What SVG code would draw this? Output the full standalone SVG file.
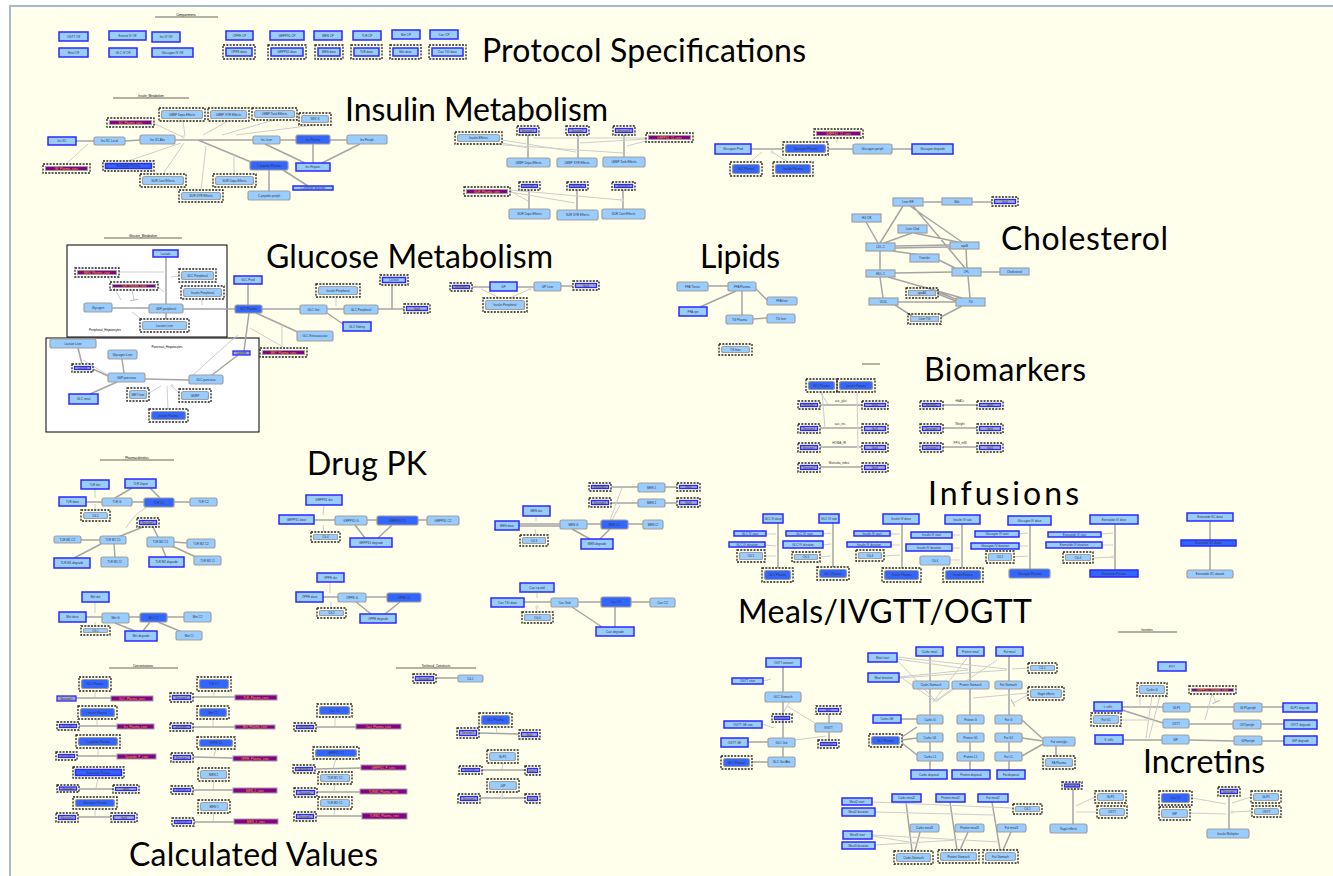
<svg xmlns="http://www.w3.org/2000/svg" width="1333" height="876" viewBox="0 0 1333 876">
<style>
.a{fill:#99ccff;stroke:#a0a0a0;stroke-width:1.2}
.g{fill:#99ccff;stroke:#a0a0a0;stroke-width:1.2}
.b{fill:#99ccff;stroke:#2a2aff;stroke-width:1.5}
.c{fill:#3366ff;stroke:#9a9a9a;stroke-width:1.2}
.cb{fill:#3366ff;stroke:#2a2aff;stroke-width:1.5}
.p{fill:#880088;stroke:#a0a0a0;stroke-width:1}
.e{fill:#a9a9c9;stroke:#2a2aff;stroke-width:1.3}
.d{fill:none;stroke:#222;stroke-width:1.3;stroke-dasharray:2 1.3}
.box{fill:#fff;stroke:#000;stroke-width:1}
text{font-family:"Liberation Sans",Arial,sans-serif}
.t{font-size:3px;fill:#333;text-anchor:middle}
.tp{font-size:3px;fill:#ffaa00;text-anchor:middle}
.h{font-size:3px;fill:#000;text-anchor:middle}
.T{font-family:Lato,"Open Sans","DejaVu Sans",sans-serif;font-size:32px;fill:#000}
.l{stroke:#a5a5a5;stroke-width:1.5;fill:none}
.lt{stroke:#cdcdcd;stroke-width:1;fill:none;marker-end:url(#o)}
.lb{stroke:#cdcdcd;stroke-width:1;fill:none;marker-end:url(#tb)}
.hl{stroke:#000;stroke-width:0.6}
</style>
<defs>
<marker id="o" markerWidth="4" markerHeight="4" refX="2" refY="2" markerUnits="userSpaceOnUse"><circle cx="2" cy="2" r="1.2" fill="#fff" stroke="#bbb" stroke-width="0.6"/></marker>
<marker id="tb" markerWidth="2" markerHeight="8" refX="1" refY="4" orient="auto" markerUnits="userSpaceOnUse"><line x1="1" y1="0" x2="1" y2="8" stroke="#bbb" stroke-width="1"/></marker>
</defs>
<rect x="0" y="0" width="1333" height="876" fill="#fff"/>
<rect x="10" y="6" width="1330" height="880" fill="#ffffec" stroke="#a9b9cf" stroke-width="2"/>

<g id="titles">
<text class="T" x="482" y="62" textLength="324">Protocol Specifications</text>
<text class="T" x="345" y="121" textLength="263">Insulin Metabolism</text>
<text class="T" x="266" y="268" textLength="287">Glucose Metabolism</text>
<text class="T" x="700" y="268" textLength="80">Lipids</text>
<text class="T" x="1001" y="250" textLength="167">Cholesterol</text>
<text class="T" x="924" y="381" textLength="162">Biomarkers</text>
<text class="T" x="307" y="475" textLength="120">Drug PK</text>
<text class="T" x="928" y="505" textLength="151">Infusions</text>
<text class="T" x="738" y="623" textLength="294">Meals/IVGTT/OGTT</text>
<text class="T" x="1143" y="773" textLength="122">Incretins</text>
<text class="T" x="129" y="866" textLength="249">Calculated Values</text>
</g>

<g id="headers">
<line class="hl" x1="155" y1="17" x2="218" y2="17"/><text class="h" x="186" y="16">Compartments</text>
<line class="hl" x1="113" y1="98" x2="189" y2="98"/><text class="h" x="151" y="97">Insulin_Metabolism</text>
<line class="hl" x1="104" y1="238" x2="182" y2="238"/><text class="h" x="143" y="237">Glucose_Metabolism</text>
<line class="hl" x1="100" y1="460" x2="174" y2="460"/><text class="h" x="137" y="459">Pharmacokinetics</text>
<line class="hl" x1="109" y1="668" x2="178" y2="668"/><text class="h" x="143" y="667">Concentrations</text>
<line class="hl" x1="396" y1="668" x2="476" y2="668"/><text class="h" x="436" y="667">Technical_Constructs</text>
<line class="hl" x1="1118" y1="632" x2="1177" y2="632"/><text class="h" x="1147" y="631">Incretins</text>
<line class="hl" x1="862" y1="364" x2="880" y2="364"/>
</g>

<g id="compartment-boxes">
<rect class="box" x="67" y="245" width="160" height="92"/>
<text class="h" x="105" y="331">Peripheral_Hepatocytes</text>
<rect class="box" x="46" y="338" width="213" height="94"/>
<text class="h" x="167" y="348">Pancreas_Hepatocytes</text>
</g>

<g id="connectors">
<path class="l" d="M76 141L94 141M125 141L140 140M175 140L253 140M280 140L296 140M330 140L347 140M198 140L251 162M265 144L305 163M313 144L313 163M360 144L322 163M269 170L269 191M283 170L308 186"/>
<path class="l" d="M528 135L528 158M578 135L578 158M624 135L624 157M529 190L529 209M577 190L577 210M623 190L623 209"/>
<path class="l" d="M751 149L783 149M828 149L853 149M892 149L912 149"/>
<path class="l" d="M166 257L166 304M112 308L149 308M166 313L166 319M183 309L235 309M248 284L248 305M262 309L300 309M327 309L344 309M378 309L404 309M392 285L392 309M327 313L343 324M256 313L300 333M249 313L244 351M238 355L212 375M78 348L82 364M122 359L124 373M93 369L108 376M145 379L189 380M117 382L90 394"/>
<path class="l" d="M472 287L490 287M517 287L534 287M561 286L573 286"/>
<path class="l" d="M708 286L728 286M742 291L742 315M736 291L700 307M756 289L767 300M753 319L767 318"/>
<path class="l" d="M923 202L942 202M972 202L992 202M903 206L880 243M910 206L962 242M913 206L965 268M866 222L878 243M912 233L884 243M914 233L958 242M895 246L950 245M895 248L950 247M893 251L920 255M939 260L955 268M880 251L880 270M895 273L952 272M880 277L883 298M888 277L962 298M938 292L958 300M938 294L958 302M898 302L956 302M895 305L912 316M941 317L962 306M966 249L967 268M981 272L1000 272M968 276L970 298"/>
<path class="l" d="M820 405L862 405M820 428L862 428M820 447L862 447M820 467L862 467M943 405L977 405M943 428L977 428M943 447L977 447"/>
<path class="l" d="M86 502L102 502M132 502L144 502M174 502L190 502M132 488L115 498M150 488L160 498M81 540L100 540M101 544L74 558M114 544L115 557M174 542L187 543M162 547L166 557M172 546L196 557M143 527L118 537M153 527L158 537"/>
<path class="l" d="M86 617L102 617M129 617L140 617M167 617L184 617M115 623L135 631M150 622L143 631M158 622L182 632"/>
<path class="l" d="M314 520L335 520M367 520L377 520M418 520L427 520M355 525L365 538M392 525L378 538"/>
<path class="l" d="M323 597L338 597M366 597L387 597M356 602L371 614M400 602L385 614"/>
<path class="l" d="M519 524L560 524M519 526L560 526M587 524L601 524M628 524L643 524M572 529L590 539M610 529L600 539M611 487L638 487M665 487L677 487M611 503L638 503M665 503L677 503"/>
<path class="l" d="M524 602L551 602M578 602L601 602M631 602L650 602M572 607L602 627M615 607L615 627"/>
<path class="l" d="M778 523L778 568M833 523L833 567M902 524L902 568M962 524L962 568M1030 525L1030 569M1115 524L1115 570M1210 521L1210 570"/>
<path class="l" d="M76 698L111 698M79 726L117 726M77 756L117 756M79 789L113 789M78 817L111 817M193 697L235 697M193 727L235 727M193 757L233 758M193 790L233 790M194 822L234 822M316 727L356 727M315 769L361 768M317 792L360 792M316 816L362 816M436 678L458 678M479 733L519 734M482 770L525 770M480 798L525 798"/>
<path class="l" d="M783 667L783 692M783 702L783 738M783 747L783 757M748 742L768 742M752 762L768 762M829 714L829 723M829 732L829 740"/>
<path class="l" d="M930 656L930 681M930 689L930 715M930 724L930 733M930 742L930 752M930 761L930 770M970 656L970 681M970 689L970 715M970 724L970 733M970 742L970 752M970 761L970 770M1009 656L1009 681M1009 689L1009 715M1009 724L1009 733M1009 742L1009 752M1009 761L1009 770M901 719L917 719M902 737L917 727M902 740L917 738M902 743L917 755M1022 720L1043 739M1022 738L1043 741M1022 756L1043 744M1056 746L1056 757"/>
<path class="l" d="M906 802L912 851M920 832L915 851M950 802L957 850M968 832L960 850M992 802L1000 850M1011 832L1003 850"/>
<path class="l" d="M1122 707L1163 707M1190 707L1234 707M1262 707L1283 707M1189 724L1233 724M1261 724L1284 724M1123 740L1162 740M1189 740L1234 741M1262 741L1284 741M1122 710L1163 723M1073 789L1073 824M1229 796L1229 829"/>
<path class="lt" d="M183 121L185 136M228 121L203 135M274 120L222 135M315 125L236 135M163 174L184 143M234 174L234 155M201 190L206 146M128 161L181 143M66 164L88 144M153 123L183 137"/>
<path class="lt" d="M502 143L528 148M502 140L576 152M490 144L623 153M646 138L533 138M646 139L580 143M646 141L627 146M510 191L528 201M510 192L575 203M510 190L622 200"/>
<path class="lt" d="M838 138L836 143M750 162L762 152M788 162L772 152"/>
<path class="lt" d="M336 298L336 306M202 299L202 305M179 276L171 277M143 320L132 312M283 347L250 328M282 347L282 325M190 378Q220 350 238 335M108 375L83 360M168 409L167 386M149 393L161 386M179 393L172 386"/>
<path class="lb" d="M119 272L164 272M158 287L164 292M108 277L121 300M132 290L134 300"/>
<path class="lt" d="M500 298L481 289M510 298L530 289"/>
<path class="lt" d="M820 392L828 404M822 392L825 428M857 392L858 447"/>
<path class="lt" d="M95 489L95 498M95 510L95 504M147 507Q133 515 126 528M95 602L95 613M95 626L95 622M324 505L323 515M324 532L323 525M330 582L330 593M331 608L331 602M536 516L536 521M536 535L535 529M610 520L622 488M612 520L620 505M537 592L537 598M537 612L537 607"/>
<path class="lt" d="M766 534L776 534M765 545L776 546M765 556L776 556M823 534L831 533M823 545L831 544M820 557L831 556M890 534L900 534M891 545L900 545M884 556L900 555M952 535L960 535M952 548L960 548M950 560L960 560M1019 534L1028 533M1019 546L1028 546M1014 557L1028 556M1101 534L1113 533M1102 545L1113 545M1093 558L1113 557"/>
<path class="lt" d="M95 691L95 697M97 719L97 725M98 748L98 755M98 778L96 788M95 809L95 816M214 691L214 696M213 719L213 726M216 749L214 756M214 781L213 789M214 813L213 821M335 717L335 726M336 759L333 768M335 784L334 791M335 809L334 815M496 727L497 733M503 763L502 769M503 792L502 797"/>
<path class="lt" d="M763 681L771 679M762 724L774 728M787 706L815 723M795 740L826 736M790 701L782 715"/>
<path class="lt" d="M897 657L1007 669M897 659L968 669M899 677L968 670M899 678L1007 670M1028 668L1012 669M967 658L933 702M997 660L935 702M899 676L935 701M897 660L935 700M953 688L937 700"/>
<path class="lb" d="M1028 693L973 698M1028 695L1013 703"/>
<path class="lt" d="M872 802L1012 808M875 812L993 815M872 835L1000 842M875 845L957 840M872 836L915 843"/>
<path class="lt" d="M1140 696L1140 705M1152 696L1146 738M1160 696L1149 738M1121 720L1150 720M1095 797L1076 806M1097 812L1076 812M1192 798L1226 804M1190 813L1226 814M1251 797L1232 803M1252 811L1232 812"/>
<path class="lb" d="M1212 694L1205 720M1212 694L1216 702"/>
</g>

<g id="p1"><rect class="b" x="59" y="32" width="29" height="9"/><text class="t" x="73.5" y="37.5">OGTT Off</text></g>
<g id="p2"><rect class="b" x="109" y="31" width="37" height="9"/><text class="t" x="127.5" y="36.5">Exenat IV Off</text></g>
<g id="p3"><rect class="b" x="152" y="32" width="28" height="10"/><text class="t" x="166" y="38">Ins IV Off</text></g>
<g id="p4"><rect class="b" x="226" y="31" width="27" height="9"/><text class="t" x="239.5" y="36.5">OPPE CP</text></g>
<g id="p5"><rect class="b" x="270" y="31" width="34" height="9"/><text class="t" x="287" y="36.5">GRPPS1 CP</text></g>
<g id="p6"><rect class="b" x="314" y="31" width="28" height="9"/><text class="t" x="328" y="36.5">MEN CP</text></g>
<g id="p7"><rect class="b" x="353" y="31" width="28" height="9"/><text class="t" x="367" y="36.5">TLR CP</text></g>
<g id="p8"><rect class="b" x="392" y="30" width="28" height="9"/><text class="t" x="406" y="35.5">Met CP</text></g>
<g id="p9"><rect class="b" x="430" y="30" width="28" height="9"/><text class="t" x="444" y="35.5">Caci CP</text></g>
<g id="p10"><rect class="b" x="59" y="48" width="29" height="9"/><text class="t" x="73.5" y="53.5">Meal Off</text></g>
<g id="p11"><rect class="b" x="109" y="48" width="28" height="9"/><text class="t" x="123" y="53.5">GLC IV Off</text></g>
<g id="p12"><rect class="b" x="152" y="48" width="41" height="9"/><text class="t" x="172.5" y="53.5">Glucagon IV Off</text></g>
<g id="p13"><rect class="d" x="223" y="45" width="32" height="14"/><rect class="b" x="226" y="48" width="26" height="8"/><text class="t" x="239" y="53">OPPE dose</text></g>
<g id="p14"><rect class="d" x="268" y="45" width="38" height="14"/><rect class="b" x="271" y="48" width="32" height="8"/><text class="t" x="287" y="53">GRPPS1 dose</text></g>
<g id="p15"><rect class="d" x="315" y="45" width="28" height="14"/><rect class="b" x="318" y="48" width="22" height="8"/><text class="t" x="329" y="53">MEN dose</text></g>
<g id="p16"><rect class="d" x="351" y="45" width="31" height="14"/><rect class="b" x="354" y="48" width="25" height="8"/><text class="t" x="366.5" y="53">TLR dose</text></g>
<g id="p17"><rect class="d" x="390" y="45" width="31" height="14"/><rect class="b" x="393" y="48" width="25" height="8"/><text class="t" x="405.5" y="53">Met dose</text></g>
<g id="p18"><rect class="d" x="429" y="45" width="37" height="14"/><rect class="b" x="432" y="48" width="31" height="8"/><text class="t" x="447.5" y="53">Caci TID dose</text></g>

<g id="i1"><rect class="d" x="107" y="118" width="47" height="9"/><rect class="p" x="109.5" y="120.5" width="42" height="4"/><text class="tp" x="130.5" y="123.5">SC_Plasma_conc</text></g>
<g id="i2"><rect class="d" x="159" y="108" width="46" height="13"/><rect class="a" x="161.5" y="110.5" width="41" height="8" rx="2"/><text class="t" x="182" y="115.5">LMBP Dopa Effects</text></g>
<g id="i3"><rect class="d" x="208" y="108" width="41" height="13"/><rect class="a" x="210.5" y="110.5" width="36" height="8" rx="2"/><text class="t" x="228.5" y="115.5">LMBP SYR Effects</text></g>
<g id="i4"><rect class="d" x="252" y="108" width="45" height="12"/><rect class="a" x="254.5" y="110.5" width="40" height="7" rx="2"/><text class="t" x="274.5" y="115">LMBP Tank Effects</text></g>
<g id="i5"><rect class="d" x="299" y="113" width="32" height="12"/><rect class="a" x="301.5" y="115.5" width="27" height="7" rx="2"/><text class="t" x="315" y="120">SKK X</text></g>
<g id="i6"><rect class="b" x="48" y="137" width="28" height="8"/><text class="t" x="62" y="142">Ins SC</text></g>
<g id="i7"><rect class="a" x="94" y="137" width="31" height="8" rx="2"/><text class="t" x="109.5" y="142">Ins SC Local</text></g>
<g id="i8"><rect class="a" x="140" y="135" width="35" height="9" rx="2"/><text class="t" x="157.5" y="140.5">Ins SC Abs</text></g>
<g id="i9"><rect class="a" x="253" y="136" width="27" height="8" rx="2"/><text class="t" x="266.5" y="141">Ins Liver</text></g>
<g id="i10"><rect class="c" x="296" y="135" width="34" height="9" rx="2"/><text class="t" x="313" y="140.5">Ins Plasma</text></g>
<g id="i11"><rect class="a" x="347" y="135" width="40" height="9" rx="2"/><text class="t" x="367" y="140.5">Ins Periph</text></g>
<g id="i12"><rect class="d" x="43" y="164" width="47" height="9"/><rect class="p" x="45.5" y="166.5" width="42" height="4"/><text class="tp" x="66.5" y="169.5">IM_Plasma_conc</text></g>
<g id="i13"><rect class="d" x="103" y="161" width="51" height="10"/><rect class="cb" x="105.5" y="163.5" width="46" height="5"/><text class="t" x="128.5" y="167">Exenatide Plasma</text></g>
<g id="i14"><rect class="c" x="250" y="161" width="38" height="9" rx="2"/><text class="t" x="269" y="166.5">C-peptide Plasma</text></g>
<g id="i15"><rect class="b" x="296" y="163" width="34" height="8"/><text class="t" x="313" y="168">Ins Hepatic</text></g>
<g id="i16"><rect class="d" x="140" y="174" width="46" height="13"/><rect class="a" x="142.5" y="176.5" width="41" height="8" rx="2"/><text class="t" x="163" y="181.5">SUR Cont Effects</text></g>
<g id="i17"><rect class="d" x="213" y="174" width="43" height="13"/><rect class="a" x="215.5" y="176.5" width="38" height="8" rx="2"/><text class="t" x="234.5" y="181.5">SUR Dopa Effects</text></g>
<g id="i18"><rect class="d" x="179" y="190" width="44" height="12"/><rect class="a" x="181.5" y="192.5" width="39" height="7" rx="2"/><text class="t" x="201" y="197">SUR SYR Effects</text></g>
<g id="i19"><rect class="a" x="248" y="191" width="42" height="9" rx="2"/><text class="t" x="269" y="196.5">C-peptide periph</text></g>
<g id="i20"><rect class="b" x="293" y="186" width="40" height="4"/><text class="t" x="313" y="189">C-peptide degrade</text></g>

<g id="j1"><rect class="d" x="455" y="132" width="47" height="12"/><rect class="a" x="457.5" y="134.5" width="42" height="7" rx="2"/><text class="t" x="478.5" y="139">Insulin Effects</text></g>
<g id="j2"><rect class="d" x="517" y="126" width="22" height="9"/><rect class="e" x="519.5" y="128.5" width="17" height="4"/><text class="t" x="528" y="131.5">Session1</text></g>
<g id="j3"><rect class="d" x="566" y="126" width="23" height="9"/><rect class="e" x="568.5" y="128.5" width="18" height="4"/><text class="t" x="577.5" y="131.5">Session2</text></g>
<g id="j4"><rect class="d" x="613" y="126" width="22" height="9"/><rect class="e" x="615.5" y="128.5" width="17" height="4"/><text class="t" x="624" y="131.5">Session3</text></g>
<g id="j5"><rect class="d" x="646" y="133" width="47" height="9"/><rect class="p" x="648.5" y="135.5" width="42" height="4"/><text class="tp" x="669.5" y="138.5">GRPPS1_CI_conc</text></g>
<g id="j6"><rect class="a" x="507" y="158" width="43" height="9" rx="2"/><text class="t" x="528.5" y="163.5">LMBP Dopa Effects</text></g>
<g id="j7"><rect class="a" x="557" y="158" width="40" height="9" rx="2"/><text class="t" x="577" y="163.5">LMBP SYR Effects</text></g>
<g id="j8"><rect class="a" x="603" y="157" width="42" height="10" rx="2"/><text class="t" x="624" y="163">LMBP Tank Effects</text></g>
<g id="j9"><rect class="d" x="464" y="187" width="46" height="9"/><rect class="p" x="466.5" y="189.5" width="41" height="4"/><text class="tp" x="487" y="192.5">SUR_Plasma_conc</text></g>
<g id="j10"><rect class="d" x="519" y="182" width="21" height="8"/><rect class="e" x="521.5" y="184.5" width="16" height="3"/><text class="t" x="529.5" y="187">Session1</text></g>
<g id="j11"><rect class="d" x="567" y="182" width="21" height="8"/><rect class="e" x="569.5" y="184.5" width="16" height="3"/><text class="t" x="577.5" y="187">Session2</text></g>
<g id="j12"><rect class="d" x="612" y="182" width="23" height="8"/><rect class="e" x="614.5" y="184.5" width="18" height="3"/><text class="t" x="623.5" y="187">Session3</text></g>
<g id="j13"><rect class="a" x="509" y="209" width="41" height="10" rx="2"/><text class="t" x="529.5" y="215">SUR Dopa Effects</text></g>
<g id="j14"><rect class="a" x="557" y="210" width="41" height="10" rx="2"/><text class="t" x="577.5" y="216">SUR SYR Effects</text></g>
<g id="j15"><rect class="a" x="602" y="209" width="43" height="10" rx="2"/><text class="t" x="623.5" y="215">SUR Cont Effects</text></g>

<g id="g1"><rect class="d" x="814" y="129" width="49" height="9"/><rect class="p" x="816.5" y="131.5" width="44" height="4"/><text class="tp" x="838.5" y="134.5">GRPPS1_CI_conc</text></g>
<g id="g2"><rect class="b" x="715" y="144" width="36" height="10"/><text class="t" x="733" y="150">Glucagon Prod</text></g>
<g id="g3"><rect class="d" x="783" y="142" width="45" height="13"/><rect class="c" x="785.5" y="144.5" width="40" height="8" rx="2"/><text class="t" x="805.5" y="149.5">Glucagon Plasma</text></g>
<g id="g4"><rect class="a" x="853" y="144" width="39" height="10" rx="2"/><text class="t" x="872.5" y="150">Glucagon periph</text></g>
<g id="g5"><rect class="b" x="912" y="144" width="41" height="10"/><text class="t" x="932.5" y="150">Glucagon degrade</text></g>
<g id="g6"><rect class="d" x="730" y="162" width="32" height="14"/><rect class="c" x="732.5" y="164.5" width="27" height="9" rx="2"/><text class="t" x="746" y="170">GLC Plasma</text></g>
<g id="g7"><rect class="d" x="773" y="162" width="40" height="14"/><rect class="c" x="775.5" y="164.5" width="35" height="9" rx="2"/><text class="t" x="793" y="170">Insulin Plasma</text></g>

<g id="gm1"><rect class="b" x="153" y="250" width="25" height="7"/><text class="t" x="165.5" y="254.5">Lactate</text></g>
<g id="gm2"><rect class="d" x="75" y="268" width="44" height="9"/><rect class="p" x="77.5" y="270.5" width="39" height="4"/><text class="tp" x="97" y="273.5">MEN_Plasma_conc</text></g>
<g id="gm3"><rect class="d" x="179" y="269" width="37" height="13"/><rect class="a" x="181.5" y="271.5" width="32" height="8" rx="2"/><text class="t" x="197.5" y="276.5">GLC Peripheral</text></g>
<g id="gm4"><rect class="d" x="110" y="282" width="48" height="8"/><rect class="p" x="112.5" y="284.5" width="43" height="3"/><text class="tp" x="134" y="287">TLR_Plasma_conc</text></g>
<g id="gm5"><rect class="d" x="181" y="286" width="43" height="13"/><rect class="a" x="183.5" y="288.5" width="38" height="8" rx="2"/><text class="t" x="202.5" y="293.5">Insulin Peripheral</text></g>
<g id="gm6"><rect class="a" x="84" y="303" width="28" height="9" rx="2"/><text class="t" x="98" y="308.5">Glycogen</text></g>
<g id="gm7"><rect class="a" x="149" y="304" width="34" height="9" rx="2"/><text class="t" x="166" y="309.5">G6P peripheral</text></g>
<g id="gm8"><rect class="d" x="140" y="319" width="49" height="13"/><rect class="a" x="142.5" y="321.5" width="44" height="8" rx="2"/><text class="t" x="164.5" y="326.5">Lactate Liver</text></g>
<g id="gm9"><rect class="b" x="234" y="276" width="28" height="8"/><text class="t" x="248" y="281">GLC Prod</text></g>
<g id="gm10"><rect class="c" x="235" y="305" width="27" height="8" rx="2"/><text class="t" x="248.5" y="310">GLC Plasma</text></g>
<g id="gm11"><rect class="d" x="316" y="284" width="44" height="13"/><rect class="a" x="318.5" y="286.5" width="39" height="8" rx="2"/><text class="t" x="338" y="291.5">Insulin Peripheral</text></g>
<g id="gm12"><rect class="a" x="300" y="305" width="27" height="9" rx="2"/><text class="t" x="313.5" y="310.5">GLC Gut</text></g>
<g id="gm13"><rect class="a" x="344" y="305" width="34" height="9" rx="2"/><text class="t" x="361" y="310.5">GLC Peripheral</text></g>
<g id="gm14"><rect class="d" x="380" y="275" width="28" height="10"/><rect class="b" x="382.5" y="277.5" width="23" height="5"/><text class="t" x="394" y="281">Lactate</text></g>
<g id="gm15"><rect class="d" x="404" y="304" width="26" height="9"/><rect class="e" x="406.5" y="306.5" width="21" height="4"/><text class="t" x="417" y="309.5">Gut1</text></g>
<g id="gm16"><rect class="b" x="343" y="322" width="28" height="9"/><text class="t" x="357" y="327.5">GLC Kidney</text></g>
<g id="gm17"><rect class="a" x="297" y="331" width="36" height="10" rx="2"/><text class="t" x="315" y="337">GLC Extravascular</text></g>
<g id="gm18"><rect class="d" x="260" y="348" width="47" height="9"/><rect class="p" x="262.5" y="350.5" width="42" height="4"/><text class="tp" x="283.5" y="353.5">MET_Plasma_conc</text></g>
<g id="gm19"><rect class="e" x="233" y="351" width="17" height="4"/><text class="t" x="241.5" y="354">Lactate</text></g>
<g id="gm20"><rect class="a" x="50" y="339" width="46" height="9" rx="2"/><text class="t" x="73" y="344.5">Lactate Liver</text></g>
<g id="gm21"><rect class="a" x="108" y="350" width="29" height="9" rx="2"/><text class="t" x="122.5" y="355.5">Glycogen Liver</text></g>
<g id="gm22"><rect class="d" x="72" y="364" width="21" height="8"/><rect class="e" x="74.5" y="366.5" width="16" height="3"/><text class="t" x="82.5" y="369">Lactate</text></g>
<g id="gm23"><rect class="a" x="108" y="373" width="37" height="9" rx="2"/><text class="t" x="126.5" y="378.5">G6P pancreas</text></g>
<g id="gm24"><rect class="a" x="189" y="375" width="34" height="9" rx="2"/><text class="t" x="206" y="380.5">GLC pancreas</text></g>
<g id="gm25"><rect class="b" x="69" y="394" width="29" height="10"/><text class="t" x="83.5" y="400">GLC renal</text></g>
<g id="gm26"><rect class="d" x="127" y="388" width="22" height="13"/><rect class="a" x="129.5" y="390.5" width="17" height="8" rx="2"/><text class="t" x="138" y="395.5">MET liver</text></g>
<g id="gm27"><rect class="d" x="179" y="389" width="32" height="13"/><rect class="a" x="181.5" y="391.5" width="27" height="8" rx="2"/><text class="t" x="195" y="396.5">GKRP</text></g>
<g id="gm28"><rect class="d" x="149" y="409" width="39" height="13"/><rect class="c" x="151.5" y="411.5" width="34" height="8" rx="2"/><text class="t" x="168.5" y="416.5">Insulin Plasma</text></g>

<g id="gk1"><rect class="d" x="450" y="283" width="22" height="8"/><rect class="e" x="452.5" y="285.5" width="17" height="3"/><text class="t" x="461" y="288">Session1</text></g>
<g id="gk2"><rect class="b" x="490" y="282" width="27" height="9"/><text class="t" x="503.5" y="287.5">GP</text></g>
<g id="gk3"><rect class="a" x="534" y="282" width="27" height="9" rx="2"/><text class="t" x="547.5" y="287.5">GP Liver</text></g>
<g id="gk4"><rect class="d" x="573" y="281" width="26" height="9"/><rect class="e" x="575.5" y="283.5" width="21" height="4"/><text class="t" x="586" y="286.5">Gut1</text></g>
<g id="gk5"><rect class="d" x="483" y="298" width="44" height="14"/><rect class="a" x="485.5" y="300.5" width="39" height="9" rx="2"/><text class="t" x="505" y="306">Insulin Peripheral</text></g>

<g id="lp1"><rect class="a" x="677" y="282" width="31" height="9" rx="2"/><text class="t" x="692.5" y="287.5">FFA Tissue</text></g>
<g id="lp2"><rect class="a" x="728" y="282" width="28" height="9" rx="2"/><text class="t" x="742" y="287.5">FFA Plasma</text></g>
<g id="lp3"><rect class="b" x="679" y="307" width="28" height="9"/><text class="t" x="693" y="312.5">FFA syn</text></g>
<g id="lp4"><rect class="a" x="767" y="297" width="30" height="8" rx="2"/><text class="t" x="782" y="302">FFA liver</text></g>
<g id="lp5"><rect class="a" x="726" y="315" width="27" height="9" rx="2"/><text class="t" x="739.5" y="320.5">TG Plasma</text></g>
<g id="lp6"><rect class="a" x="767" y="314" width="28" height="9" rx="2"/><text class="t" x="781" y="319.5">TG liver</text></g>
<g id="lp7"><rect class="d" x="719" y="344" width="33" height="11"/><rect class="a" x="721.5" y="346.5" width="28" height="6" rx="2"/><text class="t" x="735.5" y="350.5">TG liver</text></g>

<g id="ch1"><rect class="g" x="893" y="198" width="30" height="8"/><text class="t" x="908" y="203">Liver ER</text></g>
<g id="ch2"><rect class="g" x="942" y="198" width="30" height="7"/><text class="t" x="957" y="202.5">Bile</text></g>
<g id="ch3"><rect class="d" x="992" y="197" width="26" height="9"/><rect class="e" x="994.5" y="199.5" width="21" height="4"/><text class="t" x="1005" y="202.5">Gut1</text></g>
<g id="ch4"><rect class="g" x="852" y="214" width="29" height="8"/><text class="t" x="866.5" y="219">HG CR</text></g>
<g id="ch5"><rect class="g" x="898" y="225" width="29" height="8"/><text class="t" x="912.5" y="230">Liver Chol</text></g>
<g id="ch6"><rect class="g" x="866" y="243" width="29" height="8"/><text class="t" x="880.5" y="248">LDL-C</text></g>
<g id="ch7"><rect class="g" x="950" y="242" width="29" height="7"/><text class="t" x="964.5" y="246.5">apoB</text></g>
<g id="ch8"><rect class="g" x="910" y="254" width="29" height="8"/><text class="t" x="924.5" y="259">Transfer</text></g>
<g id="ch9"><rect class="g" x="866" y="270" width="29" height="7"/><text class="t" x="880.5" y="274.5">HDL-C</text></g>
<g id="ch10"><rect class="g" x="952" y="268" width="29" height="8"/><text class="t" x="966.5" y="273">LPL</text></g>
<g id="ch11"><rect class="g" x="1000" y="268" width="29" height="7"/><text class="t" x="1014.5" y="272.5">Cholesterol</text></g>
<g id="ch12"><rect class="d" x="906" y="288" width="32" height="10"/><rect class="g" x="908.5" y="290.5" width="27" height="5"/><text class="t" x="922" y="294">apoA1</text></g>
<g id="ch13"><rect class="g" x="869" y="298" width="29" height="7"/><text class="t" x="883.5" y="302.5">VLDL</text></g>
<g id="ch14"><rect class="g" x="956" y="298" width="29" height="8"/><text class="t" x="970.5" y="303">TG</text></g>
<g id="ch15"><rect class="d" x="908" y="314" width="33" height="10"/><rect class="g" x="910.5" y="316.5" width="28" height="5"/><text class="t" x="924.5" y="320">Liver TG</text></g>

<g id="bm1"><rect class="d" x="806" y="379" width="31" height="13"/><rect class="c" x="808.5" y="381.5" width="26" height="8" rx="2"/><text class="t" x="821.5" y="386.5">GLC Plasma</text></g>
<g id="bm2"><rect class="d" x="837" y="379" width="38" height="13"/><rect class="c" x="839.5" y="381.5" width="33" height="8" rx="2"/><text class="t" x="856" y="386.5">Insulin Plasma</text></g>
<g id="bm3"><rect class="d" x="798" y="401" width="22" height="8"/><rect class="e" x="800.5" y="403.5" width="17" height="3"/><text class="t" x="809" y="406">Session1</text></g>
<g id="bm4"><rect class="d" x="862" y="401" width="26" height="8"/><rect class="e" x="864.5" y="403.5" width="21" height="3"/><text class="t" x="875" y="406">Gut1</text></g>
<g id="bm5"><rect class="d" x="798" y="424" width="22" height="9"/><rect class="e" x="800.5" y="426.5" width="17" height="4"/><text class="t" x="809" y="429.5">Session1</text></g>
<g id="bm6"><rect class="d" x="862" y="424" width="26" height="9"/><rect class="e" x="864.5" y="426.5" width="21" height="4"/><text class="t" x="875" y="429.5">Gut1</text></g>
<g id="bm7"><rect class="d" x="798" y="443" width="22" height="9"/><rect class="e" x="800.5" y="445.5" width="17" height="4"/><text class="t" x="809" y="448.5">Session1</text></g>
<g id="bm8"><rect class="d" x="862" y="443" width="26" height="9"/><rect class="e" x="864.5" y="445.5" width="21" height="4"/><text class="t" x="875" y="448.5">Gut1</text></g>
<g id="bm9"><rect class="d" x="798" y="463" width="22" height="9"/><rect class="e" x="800.5" y="465.5" width="17" height="4"/><text class="t" x="809" y="468.5">Session1</text></g>
<g id="bm10"><rect class="d" x="862" y="463" width="26" height="9"/><rect class="e" x="864.5" y="465.5" width="21" height="4"/><text class="t" x="875" y="468.5">Gut1</text></g>
<g id="bm11"><rect class="d" x="920" y="401" width="23" height="8"/><rect class="e" x="922.5" y="403.5" width="18" height="3"/><text class="t" x="931.5" y="406">Session1</text></g>
<g id="bm12"><rect class="d" x="977" y="401" width="26" height="8"/><rect class="e" x="979.5" y="403.5" width="21" height="3"/><text class="t" x="990" y="406">Gut1</text></g>
<g id="bm13"><rect class="d" x="920" y="424" width="23" height="9"/><rect class="e" x="922.5" y="426.5" width="18" height="4"/><text class="t" x="931.5" y="429.5">Session1</text></g>
<g id="bm14"><rect class="d" x="977" y="424" width="26" height="9"/><rect class="e" x="979.5" y="426.5" width="21" height="4"/><text class="t" x="990" y="429.5">Gut1</text></g>
<g id="bm15"><rect class="d" x="920" y="443" width="23" height="9"/><rect class="e" x="922.5" y="445.5" width="18" height="4"/><text class="t" x="931.5" y="448.5">Session1</text></g>
<g id="bm16"><rect class="d" x="977" y="443" width="26" height="9"/><rect class="e" x="979.5" y="445.5" width="21" height="4"/><text class="t" x="990" y="448.5">Gut1</text></g>
<g id="bm-labels"><text class="t" x="841" y="402">auc_gluc</text><text class="t" x="840" y="425">auc_ins</text><text class="t" x="839" y="444">HOMA_IR</text><text class="t" x="839" y="464">Matsuda_index</text><text class="t" x="960" y="402">HbA1c</text><text class="t" x="960" y="425">Weight</text><text class="t" x="960" y="444">FPG_mM</text></g>

<g id="d1"><rect class="b" x="81" y="480" width="28" height="9"/><text class="t" x="95" y="485.5">TLR dur</text></g>
<g id="d2"><rect class="b" x="125" y="479" width="31" height="9"/><text class="t" x="140.5" y="484.5">TLR Depot</text></g>
<g id="d3"><rect class="b" x="59" y="497" width="27" height="9"/><text class="t" x="72.5" y="502.5">TLR dose</text></g>
<g id="d4"><rect class="a" x="102" y="498" width="30" height="8" rx="2"/><text class="t" x="117" y="503">TLR G</text></g>
<g id="d5"><rect class="c" x="144" y="498" width="30" height="9" rx="2"/><text class="t" x="159" y="503.5">TLR C1</text></g>
<g id="d6"><rect class="a" x="190" y="498" width="27" height="8" rx="2"/><text class="t" x="203.5" y="503">TLR C2</text></g>
<g id="d7"><rect class="d" x="81" y="510" width="29" height="11"/><rect class="a" x="83.5" y="512.5" width="24" height="6" rx="2"/><text class="t" x="95.5" y="516.5">CtL1</text></g>
<g id="d8"><rect class="d" x="137" y="518" width="22" height="9"/><rect class="e" x="139.5" y="520.5" width="17" height="4"/><text class="t" x="148" y="523.5">Session1</text></g>
<g id="d9"><rect class="a" x="54" y="536" width="27" height="7" rx="2"/><text class="t" x="67.5" y="540.5">TLR M1 C2</text></g>
<g id="d10"><rect class="a" x="100" y="536" width="26" height="8" rx="2"/><text class="t" x="113" y="541">TLR M1 C1</text></g>
<g id="d11"><rect class="a" x="147" y="537" width="27" height="10" rx="2"/><text class="t" x="160.5" y="543">TLR M2 C1</text></g>
<g id="d12"><rect class="a" x="187" y="539" width="28" height="9" rx="2"/><text class="t" x="201" y="544.5">TLR M2 C2</text></g>
<g id="d13"><rect class="b" x="54" y="558" width="36" height="10"/><text class="t" x="72" y="564">TLR M1 degrade</text></g>
<g id="d14"><rect class="a" x="101" y="557" width="27" height="10" rx="2"/><text class="t" x="114.5" y="563">TLR M1 Cl</text></g>
<g id="d15"><rect class="b" x="149" y="557" width="35" height="10"/><text class="t" x="166.5" y="563">TLR M2 degrade</text></g>
<g id="d16"><rect class="a" x="194" y="556" width="27" height="9" rx="2"/><text class="t" x="207.5" y="561.5">TLR M2 Cl</text></g>

<g id="d17"><rect class="b" x="82" y="592" width="27" height="10"/><text class="t" x="95.5" y="598">Met dur</text></g>
<g id="d18"><rect class="b" x="59" y="612" width="27" height="10"/><text class="t" x="72.5" y="618">Met dose</text></g>
<g id="d19"><rect class="a" x="102" y="613" width="27" height="10" rx="2"/><text class="t" x="115.5" y="619">Met G</text></g>
<g id="d20"><rect class="c" x="140" y="613" width="27" height="9" rx="2"/><text class="t" x="153.5" y="618.5">Met C1</text></g>
<g id="d21"><rect class="a" x="184" y="612" width="27" height="10" rx="2"/><text class="t" x="197.5" y="618">Met C2</text></g>
<g id="d22"><rect class="d" x="81" y="626" width="29" height="9"/><rect class="a" x="83.5" y="628.5" width="24" height="4" rx="1"/><text class="t" x="95.5" y="631.5">CtL1</text></g>
<g id="d23"><rect class="b" x="125" y="631" width="32" height="10"/><text class="t" x="141" y="637">Met degrade</text></g>
<g id="d24"><rect class="a" x="176" y="631" width="26" height="9" rx="2"/><text class="t" x="189" y="636.5">Met Cl</text></g>

<g id="d25"><rect class="b" x="306" y="495" width="36" height="10"/><text class="t" x="324" y="501">GRPPS1 dur</text></g>
<g id="d26"><rect class="b" x="279" y="515" width="35" height="9"/><text class="t" x="296.5" y="520.5">GRPPS1 dose</text></g>
<g id="d27"><rect class="a" x="335" y="516" width="32" height="9" rx="2"/><text class="t" x="351" y="521.5">GRPPS1 G</text></g>
<g id="d28"><rect class="c" x="377" y="516" width="41" height="9" rx="2"/><text class="t" x="397.5" y="521.5">GRPPS1 C1</text></g>
<g id="d29"><rect class="a" x="427" y="516" width="32" height="9" rx="2"/><text class="t" x="443" y="521.5">GRPPS1 C2</text></g>
<g id="d30"><rect class="d" x="311" y="532" width="29" height="10"/><rect class="a" x="313.5" y="534.5" width="24" height="5" rx="1"/><text class="t" x="325.5" y="538">CtL4</text></g>
<g id="d31"><rect class="b" x="350" y="538" width="42" height="9"/><text class="t" x="371" y="543.5">GRPPS1 degrade</text></g>

<g id="d32"><rect class="b" x="317" y="573" width="27" height="9"/><text class="t" x="330.5" y="578.5">OPPE dur</text></g>
<g id="d33"><rect class="b" x="296" y="592" width="27" height="10"/><text class="t" x="309.5" y="598">OPPE dose</text></g>
<g id="d34"><rect class="a" x="338" y="593" width="28" height="9" rx="2"/><text class="t" x="352" y="598.5">OPPE G</text></g>
<g id="d35"><rect class="c" x="387" y="593" width="34" height="9" rx="2"/><text class="t" x="404" y="598.5">OPPE C1</text></g>
<g id="d36"><rect class="d" x="317" y="608" width="29" height="10"/><rect class="a" x="319.5" y="610.5" width="24" height="5" rx="1"/><text class="t" x="331.5" y="614">CtL2</text></g>
<g id="d37"><rect class="b" x="360" y="614" width="36" height="9"/><text class="t" x="378" y="619.5">OPPE degrade</text></g>

<g id="d38"><rect class="d" x="589" y="483" width="22" height="8"/><rect class="e" x="591.5" y="485.5" width="17" height="3"/><text class="t" x="600" y="488">Session1</text></g>
<g id="d39"><rect class="a" x="638" y="483" width="27" height="9" rx="2"/><text class="t" x="651.5" y="488.5">MEN 1</text></g>
<g id="d40"><rect class="d" x="677" y="483" width="23" height="8"/><rect class="e" x="679.5" y="485.5" width="18" height="3"/><text class="t" x="688.5" y="488">Gut1</text></g>
<g id="d41"><rect class="d" x="589" y="498" width="22" height="9"/><rect class="e" x="591.5" y="500.5" width="17" height="4"/><text class="t" x="600" y="503.5">Session1</text></g>
<g id="d42"><rect class="a" x="638" y="499" width="27" height="8" rx="2"/><text class="t" x="651.5" y="504">MEN 2</text></g>
<g id="d43"><rect class="d" x="677" y="498" width="23" height="9"/><rect class="e" x="679.5" y="500.5" width="18" height="4"/><text class="t" x="688.5" y="503.5">Gut1</text></g>
<g id="d44"><rect class="b" x="523" y="506" width="27" height="10"/><text class="t" x="536.5" y="512">MEN dur</text></g>
<g id="d45"><rect class="b" x="495" y="521" width="24" height="9"/><text class="t" x="507" y="526.5">MEN dose</text></g>
<g id="d46"><rect class="a" x="560" y="520" width="27" height="9" rx="2"/><text class="t" x="573.5" y="525.5">MEN G</text></g>
<g id="d47"><rect class="c" x="601" y="520" width="27" height="9" rx="2"/><text class="t" x="614.5" y="525.5">MEN C1</text></g>
<g id="d48"><rect class="a" x="643" y="520" width="20" height="9" rx="2"/><text class="t" x="653" y="525.5">MEN Cl</text></g>
<g id="d49"><rect class="d" x="520" y="535" width="28" height="11"/><rect class="a" x="522.5" y="537.5" width="23" height="6" rx="1"/><text class="t" x="534" y="541.5">CtL3</text></g>
<g id="d50"><rect class="b" x="581" y="539" width="32" height="10"/><text class="t" x="597" y="545">MEN degrade</text></g>

<g id="d51"><rect class="b" x="520" y="583" width="34" height="9"/><text class="t" x="537" y="588.5">Caci sq wtd</text></g>
<g id="d52"><rect class="b" x="491" y="598" width="33" height="9"/><text class="t" x="507.5" y="603.5">Caci TID dose</text></g>
<g id="d53"><rect class="a" x="551" y="598" width="27" height="9" rx="2"/><text class="t" x="564.5" y="603.5">Caci Sub</text></g>
<g id="d54"><rect class="c" x="601" y="597" width="30" height="10" rx="2"/><text class="t" x="616" y="603">Caci C1</text></g>
<g id="d55"><rect class="a" x="650" y="598" width="25" height="9" rx="2"/><text class="t" x="662.5" y="603.5">Caci C2</text></g>
<g id="d56"><rect class="d" x="522" y="612" width="31" height="11"/><rect class="a" x="524.5" y="614.5" width="26" height="6" rx="1"/><text class="t" x="537.5" y="618.5">CtL4</text></g>
<g id="d57"><rect class="b" x="596" y="627" width="38" height="9"/><text class="t" x="615" y="632.5">Caci degrade</text></g>

<g id="f1"><rect class="b" x="763" y="514" width="20" height="9"/><text class="t" x="773" y="519.5">GLC IV dose</text></g>
<g id="f2"><rect class="b" x="734" y="531" width="32" height="5"/><text class="t" x="750" y="534.5">GLC IV start</text></g>
<g id="f3"><rect class="b" x="729" y="542" width="36" height="5"/><text class="t" x="747" y="545.5">GLC IV duration</text></g>
<g id="f4"><rect class="d" x="737" y="550" width="28" height="12"/><rect class="a" x="739.5" y="552.5" width="23" height="7" rx="1"/><text class="t" x="751" y="557">CtL1</text></g>
<g id="f5"><rect class="d" x="762" y="568" width="31" height="14"/><rect class="c" x="764.5" y="570.5" width="26" height="9" rx="2"/><text class="t" x="777.5" y="576">GLC Plasma</text></g>
<g id="f6"><rect class="b" x="819" y="514" width="20" height="9"/><text class="t" x="829" y="519.5">GLC IV rate</text></g>
<g id="f7"><rect class="b" x="786" y="531" width="37" height="5"/><text class="t" x="804.5" y="534.5">GLC IV start</text></g>
<g id="f8"><rect class="b" x="783" y="541" width="40" height="7"/><text class="t" x="803" y="545.5">GLC IV duration</text></g>
<g id="f9"><rect class="d" x="792" y="552" width="28" height="10"/><rect class="a" x="794.5" y="554.5" width="23" height="5" rx="1"/><text class="t" x="806" y="558">CtL1</text></g>
<g id="f10"><rect class="d" x="817" y="567" width="32" height="13"/><rect class="c" x="819.5" y="569.5" width="27" height="8" rx="2"/><text class="t" x="833" y="574.5">GLC Plasma</text></g>
<g id="f11"><rect class="b" x="883" y="514" width="36" height="10"/><text class="t" x="901" y="520">Insulin IV dose</text></g>
<g id="f12"><rect class="b" x="854" y="531" width="36" height="5"/><text class="t" x="872" y="534.5">Insulin IV start</text></g>
<g id="f13"><rect class="b" x="847" y="542" width="44" height="5"/><text class="t" x="869" y="545.5">Insulin IV duration</text></g>
<g id="f14"><rect class="d" x="856" y="550" width="28" height="11"/><rect class="a" x="858.5" y="552.5" width="23" height="6" rx="1"/><text class="t" x="870" y="556.5">CtL4</text></g>
<g id="f15"><rect class="d" x="882" y="568" width="39" height="14"/><rect class="c" x="884.5" y="570.5" width="34" height="9" rx="2"/><text class="t" x="901.5" y="576">Insulin Plasma</text></g>
<g id="f16"><rect class="b" x="945" y="515" width="35" height="9"/><text class="t" x="962.5" y="520.5">Insulin IV rate</text></g>
<g id="f17"><rect class="b" x="911" y="532" width="41" height="6"/><text class="t" x="931.5" y="536">Insulin IV start</text></g>
<g id="f18"><rect class="b" x="906" y="544" width="46" height="7"/><text class="t" x="929" y="548.5">Insulin IV duration</text></g>
<g id="f19"><rect class="a" x="920" y="556" width="30" height="9" rx="2"/><text class="t" x="935" y="561.5">CtL4</text></g>
<g id="f20"><rect class="d" x="943" y="568" width="40" height="14"/><rect class="c" x="945.5" y="570.5" width="35" height="9" rx="2"/><text class="t" x="963" y="576">Insulin Plasma</text></g>
<g id="f21"><rect class="b" x="1008" y="516" width="43" height="9"/><text class="t" x="1029.5" y="521.5">Glucagon IV dose</text></g>
<g id="f22"><rect class="b" x="975" y="531" width="44" height="6"/><text class="t" x="997" y="535">Glucagon IV start</text></g>
<g id="f23"><rect class="b" x="971" y="543" width="48" height="6"/><text class="t" x="995" y="547">Glucagon IV duration</text></g>
<g id="f24"><rect class="d" x="986" y="551" width="28" height="12"/><rect class="a" x="988.5" y="553.5" width="23" height="7" rx="1"/><text class="t" x="1000" y="558">CtL1</text></g>
<g id="f25"><rect class="c" x="1009" y="569" width="41" height="9" rx="2"/><text class="t" x="1029.5" y="574.5">Glucagon Plasma</text></g>
<g id="f26"><rect class="b" x="1090" y="515" width="48" height="9"/><text class="t" x="1114" y="520.5">Exenatide IV dose</text></g>
<g id="f27"><rect class="b" x="1048" y="532" width="53" height="5"/><text class="t" x="1074.5" y="535.5">Exenatide IV start</text></g>
<g id="f28"><rect class="b" x="1046" y="542" width="56" height="6"/><text class="t" x="1074" y="546">Exenatide IV duration</text></g>
<g id="f29"><rect class="d" x="1063" y="552" width="30" height="11"/><rect class="a" x="1065.5" y="554.5" width="25" height="6" rx="1"/><text class="t" x="1078" y="558.5">CtL4</text></g>
<g id="f30"><rect class="cb" x="1090" y="570" width="48" height="7"/><text class="t" x="1114" y="574.5">Exenatide Plasma</text></g>
<g id="f31"><rect class="b" x="1187" y="513" width="46" height="8"/><text class="t" x="1210" y="518">Exenatide SC dose</text></g>
<g id="f32"><rect class="cb" x="1181" y="540" width="55" height="6"/><text class="t" x="1208.5" y="544">Exenatide SC depot</text></g>
<g id="f33"><rect class="a" x="1187" y="570" width="46" height="8" rx="2"/><text class="t" x="1210" y="575">Exenatide SC absorb</text></g>

<g id="c1"><rect class="d" x="79" y="677" width="32" height="14"/><rect class="c" x="81.5" y="679.5" width="27" height="9" rx="2"/><text class="t" x="95" y="685">GLC Plasma</text></g>
<g id="c2"><rect class="e" x="57" y="696" width="19" height="5"/><text class="t" x="66.5" y="699.5">Session1</text></g>
<g id="c3"><rect class="p" x="111" y="696" width="42" height="5"/><text class="tp" x="132" y="699.5">GLC_Plasma_conc</text></g>
<g id="c4"><rect class="d" x="78" y="706" width="39" height="13"/><rect class="c" x="80.5" y="708.5" width="34" height="8" rx="2"/><text class="t" x="97.5" y="713.5">Insulin Plasma</text></g>
<g id="c5"><rect class="d" x="57" y="722" width="22" height="8"/><rect class="e" x="59.5" y="724.5" width="17" height="3"/><text class="t" x="68" y="727">Session1</text></g>
<g id="c6"><rect class="p" x="117" y="724" width="37" height="5"/><text class="tp" x="135.5" y="727.5">Ins_Plasma_conc</text></g>
<g id="c7"><rect class="d" x="76" y="735" width="44" height="13"/><rect class="c" x="78.5" y="737.5" width="39" height="8" rx="2"/><text class="t" x="98" y="742.5">C-peptide Plasma</text></g>
<g id="c8"><rect class="d" x="56" y="752" width="21" height="8"/><rect class="e" x="58.5" y="754.5" width="16" height="3"/><text class="t" x="66.5" y="757">Session1</text></g>
<g id="c9"><rect class="p" x="117" y="754" width="39" height="5"/><text class="tp" x="136.5" y="757.5">Cpeptide_P_conc</text></g>
<g id="c10"><rect class="d" x="73" y="767" width="51" height="11"/><rect class="cb" x="75.5" y="769.5" width="46" height="6"/><text class="t" x="98.5" y="773.5">Exenatide Plasma</text></g>
<g id="c11"><rect class="d" x="57" y="785" width="22" height="7"/><rect class="e" x="59.5" y="787" width="17" height="3"/><text class="t" x="68" y="789.5">Session1</text></g>
<g id="c12"><rect class="d" x="113" y="785" width="26" height="8"/><rect class="e" x="115.5" y="787.5" width="21" height="3"/><text class="t" x="126" y="790">Gut1</text></g>
<g id="c13"><rect class="d" x="73" y="797" width="44" height="12"/><rect class="c" x="75.5" y="799.5" width="39" height="7" rx="2"/><text class="t" x="95" y="804">Glucagon Plasma</text></g>
<g id="c14"><rect class="d" x="56" y="813" width="22" height="9"/><rect class="e" x="58.5" y="815.5" width="17" height="4"/><text class="t" x="67" y="818.5">Session1</text></g>
<g id="c15"><rect class="d" x="111" y="813" width="26" height="9"/><rect class="e" x="113.5" y="815.5" width="21" height="4"/><text class="t" x="124" y="818.5">Gut1</text></g>
<g id="c16"><rect class="d" x="197" y="677" width="34" height="14"/><rect class="c" x="199.5" y="679.5" width="29" height="9" rx="2"/><text class="t" x="214" y="685">TLR C1</text></g>
<g id="c17"><rect class="d" x="170" y="693" width="23" height="9"/><rect class="e" x="172.5" y="695.5" width="18" height="4"/><text class="t" x="181.5" y="698.5">Session1</text></g>
<g id="c18"><rect class="p" x="235" y="695" width="42" height="5"/><text class="tp" x="256" y="698.5">TLR_Plasma_conc</text></g>
<g id="c19"><rect class="d" x="197" y="706" width="32" height="13"/><rect class="c" x="199.5" y="708.5" width="27" height="8" rx="2"/><text class="t" x="213" y="713.5">Met C1</text></g>
<g id="c20"><rect class="d" x="170" y="723" width="23" height="8"/><rect class="e" x="172.5" y="725.5" width="18" height="3"/><text class="t" x="181.5" y="728">Session1</text></g>
<g id="c21"><rect class="p" x="235" y="725" width="40" height="4"/><text class="tp" x="255" y="728">Met_Plasma_conc</text></g>
<g id="c22"><rect class="d" x="197" y="737" width="38" height="12"/><rect class="c" x="199.5" y="739.5" width="33" height="7" rx="2"/><text class="t" x="216" y="744">OPPE C1</text></g>
<g id="c23"><rect class="d" x="171" y="753" width="22" height="9"/><rect class="e" x="173.5" y="755.5" width="17" height="4"/><text class="t" x="182" y="758.5">Session1</text></g>
<g id="c24"><rect class="p" x="233" y="756" width="44" height="5"/><text class="tp" x="255" y="759.5">OPPE_Plasma_conc</text></g>
<g id="c25"><rect class="d" x="198" y="768" width="31" height="13"/><rect class="a" x="200.5" y="770.5" width="26" height="8" rx="2"/><text class="t" x="213.5" y="775.5">MEN 2</text></g>
<g id="c26"><rect class="d" x="171" y="786" width="22" height="8"/><rect class="e" x="173.5" y="788.5" width="17" height="3"/><text class="t" x="182" y="791">Session1</text></g>
<g id="c27"><rect class="p" x="233" y="788" width="44" height="5"/><text class="tp" x="255" y="791.5">MEN_2_conc</text></g>
<g id="c28"><rect class="d" x="198" y="800" width="32" height="13"/><rect class="a" x="200.5" y="802.5" width="27" height="8" rx="2"/><text class="t" x="214" y="807.5">MEN 1</text></g>
<g id="c29"><rect class="d" x="172" y="818" width="22" height="8"/><rect class="e" x="174.5" y="820.5" width="17" height="3"/><text class="t" x="183" y="823">Session1</text></g>
<g id="c30"><rect class="p" x="234" y="819" width="44" height="5"/><text class="tp" x="256" y="822.5">MEN_1_conc</text></g>
<g id="c31"><rect class="d" x="317" y="704" width="35" height="13"/><rect class="c" x="319.5" y="706.5" width="30" height="8" rx="2"/><text class="t" x="334.5" y="711.5">Caci C1</text></g>
<g id="c32"><rect class="d" x="294" y="723" width="22" height="8"/><rect class="e" x="296.5" y="725.5" width="17" height="3"/><text class="t" x="305" y="728">Session1</text></g>
<g id="c33"><rect class="p" x="356" y="724" width="45" height="5"/><text class="tp" x="378.5" y="727.5">Caci_Plasma_conc</text></g>
<g id="c34"><rect class="d" x="313" y="747" width="46" height="12"/><rect class="c" x="315.5" y="749.5" width="41" height="7" rx="2"/><text class="t" x="336" y="754">GRPPS1 C1</text></g>
<g id="c35"><rect class="d" x="293" y="765" width="22" height="8"/><rect class="e" x="295.5" y="767.5" width="17" height="3"/><text class="t" x="304" y="770">Session1</text></g>
<g id="c36"><rect class="p" x="361" y="765" width="45" height="5"/><text class="tp" x="383.5" y="768.5">GRPPS1_P_conc</text></g>
<g id="c37"><rect class="d" x="318" y="772" width="34" height="12"/><rect class="a" x="320.5" y="774.5" width="29" height="7" rx="2"/><text class="t" x="335" y="779">TLR M1 C1</text></g>
<g id="c38"><rect class="d" x="294" y="788" width="23" height="9"/><rect class="e" x="296.5" y="790.5" width="18" height="4"/><text class="t" x="305.5" y="793.5">Session1</text></g>
<g id="c39"><rect class="p" x="360" y="789" width="47" height="5"/><text class="tp" x="383.5" y="792.5">TLRM1_Plasma_conc</text></g>
<g id="c40"><rect class="d" x="318" y="797" width="34" height="12"/><rect class="a" x="320.5" y="799.5" width="29" height="7" rx="2"/><text class="t" x="335" y="804">TLR M2 C1</text></g>
<g id="c41"><rect class="d" x="294" y="812" width="22" height="9"/><rect class="e" x="296.5" y="814.5" width="17" height="4"/><text class="t" x="305" y="817.5">Session1</text></g>
<g id="c42"><rect class="p" x="362" y="813" width="45" height="6"/><text class="tp" x="384.5" y="817">TLRM2_Plasma_conc</text></g>

<g id="t1"><rect class="d" x="413" y="674" width="23" height="9"/><rect class="e" x="415.5" y="676.5" width="18" height="4"/><text class="t" x="424.5" y="679.5">Session1</text></g>
<g id="t2"><rect class="a" x="458" y="675" width="25" height="7" rx="2"/><text class="t" x="470.5" y="679.5">CtL1</text></g>
<g id="t3"><rect class="d" x="479" y="713" width="33" height="14"/><rect class="c" x="481.5" y="715.5" width="28" height="9" rx="2"/><text class="t" x="495.5" y="721">GLC Plasma</text></g>
<g id="t4"><rect class="d" x="457" y="728" width="22" height="10"/><rect class="e" x="459.5" y="730.5" width="17" height="5"/><text class="t" x="468" y="734">Session1</text></g>
<g id="t5"><rect class="d" x="519" y="730" width="21" height="9"/><rect class="e" x="521.5" y="732.5" width="16" height="4"/><text class="t" x="529.5" y="735.5">Gut1</text></g>
<g id="t6"><rect class="d" x="487" y="750" width="31" height="13"/><rect class="a" x="489.5" y="752.5" width="26" height="8" rx="2"/><text class="t" x="502.5" y="757.5">GLP1</text></g>
<g id="t7"><rect class="d" x="459" y="766" width="23" height="8"/><rect class="e" x="461.5" y="768.5" width="18" height="3"/><text class="t" x="470.5" y="771">Session1</text></g>
<g id="t8"><rect class="d" x="525" y="766" width="15" height="9"/><rect class="e" x="527.5" y="768.5" width="10" height="4"/><text class="t" x="532.5" y="771.5">Gut1</text></g>
<g id="t9"><rect class="d" x="487" y="779" width="32" height="13"/><rect class="a" x="489.5" y="781.5" width="27" height="8" rx="2"/><text class="t" x="503" y="786.5">GIP</text></g>
<g id="t10"><rect class="d" x="458" y="794" width="22" height="9"/><rect class="e" x="460.5" y="796.5" width="17" height="4"/><text class="t" x="469" y="799.5">Session1</text></g>
<g id="t11"><rect class="d" x="525" y="794" width="15" height="9"/><rect class="e" x="527.5" y="796.5" width="10" height="4"/><text class="t" x="532.5" y="799.5">Gut1</text></g>

<g id="o1"><rect class="b" x="766" y="658" width="35" height="9"/><text class="t" x="783.5" y="663.5">OGTT amount</text></g>
<g id="o2"><rect class="b" x="732" y="678" width="31" height="6"/><text class="t" x="747.5" y="682">OGTT start</text></g>
<g id="o3"><rect class="a" x="765" y="692" width="36" height="10" rx="2"/><text class="t" x="783" y="698">GLC Stomach</text></g>
<g id="o4"><rect class="d" x="816" y="706" width="25" height="8"/><rect class="e" x="818.5" y="708.5" width="20" height="3"/><text class="t" x="828.5" y="711">Gut1</text></g>
<g id="o5"><rect class="d" x="772" y="714" width="20" height="8"/><rect class="e" x="774.5" y="716.5" width="15" height="3"/><text class="t" x="782" y="719">Session1</text></g>
<g id="o6"><rect class="b" x="724" y="721" width="38" height="7"/><text class="t" x="743" y="725.5">OGTT GE rate</text></g>
<g id="o7"><rect class="a" x="815" y="723" width="27" height="9" rx="2"/><text class="t" x="828.5" y="728.5">IVGTT</text></g>
<g id="o8"><rect class="b" x="721" y="738" width="27" height="9"/><text class="t" x="734.5" y="743.5">OGTT GE</text></g>
<g id="o9"><rect class="a" x="768" y="738" width="27" height="9" rx="2"/><text class="t" x="781.5" y="743.5">GLC Gut</text></g>
<g id="o10"><rect class="d" x="818" y="740" width="21" height="8"/><rect class="e" x="820.5" y="742.5" width="16" height="3"/><text class="t" x="828.5" y="745">Session1</text></g>
<g id="o11"><rect class="d" x="721" y="756" width="31" height="13"/><rect class="c" x="723.5" y="758.5" width="26" height="8" rx="2"/><text class="t" x="736.5" y="763.5">GLC Plasma</text></g>
<g id="o12"><rect class="a" x="768" y="757" width="27" height="10" rx="2"/><text class="t" x="781.5" y="763">GLC Gut Abs</text></g>

<g id="m1"><rect class="b" x="868" y="653" width="29" height="9"/><text class="t" x="882.5" y="658.5">Meal start</text></g>
<g id="m2"><rect class="b" x="868" y="673" width="31" height="9"/><text class="t" x="883.5" y="678.5">Meal duration</text></g>
<g id="m3"><rect class="b" x="916" y="647" width="27" height="9"/><text class="t" x="929.5" y="652.5">Carbs meal</text></g>
<g id="m4"><rect class="b" x="957" y="647" width="27" height="9"/><text class="t" x="970.5" y="652.5">Protein meal</text></g>
<g id="m5"><rect class="b" x="996" y="647" width="27" height="9"/><text class="t" x="1009.5" y="652.5">Fat meal</text></g>
<g id="m6"><rect class="d" x="1028" y="663" width="29" height="10"/><rect class="a" x="1030.5" y="665.5" width="24" height="5" rx="1"/><text class="t" x="1042.5" y="669">CtL1</text></g>
<g id="m7"><rect class="a" x="913" y="681" width="36" height="8" rx="2"/><text class="t" x="931" y="686">Carbs Stomach</text></g>
<g id="m8"><rect class="a" x="952" y="681" width="37" height="8" rx="2"/><text class="t" x="970.5" y="686">Protein Stomach</text></g>
<g id="m9"><rect class="a" x="995" y="681" width="27" height="8" rx="2"/><text class="t" x="1008.5" y="686">Fat Stomach</text></g>
<g id="m10"><rect class="d" x="1028" y="687" width="36" height="13"/><rect class="a" x="1030.5" y="689.5" width="31" height="8" rx="2"/><text class="t" x="1046" y="694.5">Vagal effects</text></g>
<g id="m11"><rect class="b" x="873" y="715" width="28" height="8"/><text class="t" x="887" y="720">Carbs GE</text></g>
<g id="m12"><rect class="a" x="917" y="715" width="26" height="9" rx="2"/><text class="t" x="930" y="720.5">Carbs G</text></g>
<g id="m13"><rect class="a" x="957" y="715" width="27" height="9" rx="2"/><text class="t" x="970.5" y="720.5">Protein G</text></g>
<g id="m14"><rect class="a" x="995" y="715" width="27" height="9" rx="2"/><text class="t" x="1008.5" y="720.5">Fat G</text></g>
<g id="m15"><rect class="d" x="869" y="734" width="33" height="13"/><rect class="c" x="871.5" y="736.5" width="28" height="8" rx="2"/><text class="t" x="885.5" y="741.5">GLC Plasma</text></g>
<g id="m16"><rect class="a" x="917" y="733" width="26" height="9" rx="2"/><text class="t" x="930" y="738.5">Carbs G1</text></g>
<g id="m17"><rect class="a" x="957" y="733" width="27" height="9" rx="2"/><text class="t" x="970.5" y="738.5">Protein G1</text></g>
<g id="m18"><rect class="a" x="995" y="733" width="27" height="9" rx="2"/><text class="t" x="1008.5" y="738.5">Fat G1</text></g>
<g id="m19"><rect class="a" x="1043" y="737" width="32" height="9" rx="2"/><text class="t" x="1059" y="742.5">Fat sens/glu</text></g>
<g id="m20"><rect class="a" x="917" y="752" width="26" height="9" rx="2"/><text class="t" x="930" y="757.5">Carbs L1</text></g>
<g id="m21"><rect class="a" x="957" y="752" width="27" height="9" rx="2"/><text class="t" x="970.5" y="757.5">Protein L1</text></g>
<g id="m22"><rect class="a" x="995" y="752" width="27" height="9" rx="2"/><text class="t" x="1008.5" y="757.5">Fat L1</text></g>
<g id="m23"><rect class="d" x="1043" y="756" width="32" height="13"/><rect class="a" x="1045.5" y="758.5" width="27" height="8" rx="2"/><text class="t" x="1059" y="763.5">FA Plasma</text></g>
<g id="m24"><rect class="b" x="911" y="770" width="36" height="9"/><text class="t" x="929" y="775.5">Carbs disposal</text></g>
<g id="m25"><rect class="b" x="952" y="770" width="38" height="9"/><text class="t" x="971" y="775.5">Protein disposal</text></g>
<g id="m26"><rect class="b" x="997" y="770" width="28" height="9"/><text class="t" x="1011" y="775.5">Fat disposal</text></g>

<g id="n1"><rect class="b" x="842" y="798" width="30" height="7"/><text class="t" x="857" y="802.5">Meal2 start</text></g>
<g id="n2"><rect class="b" x="842" y="808" width="33" height="8"/><text class="t" x="858.5" y="813">Meal2 duration</text></g>
<g id="n3"><rect class="b" x="892" y="794" width="29" height="8"/><text class="t" x="906.5" y="799">Carbs meal2</text></g>
<g id="n4"><rect class="b" x="936" y="794" width="29" height="8"/><text class="t" x="950.5" y="799">Protein meal2</text></g>
<g id="n5"><rect class="b" x="978" y="794" width="30" height="8"/><text class="t" x="993" y="799">Fat meal2</text></g>
<g id="n6"><rect class="d" x="1013" y="804" width="29" height="10"/><rect class="a" x="1015.5" y="806.5" width="24" height="5" rx="1"/><text class="t" x="1027.5" y="810">CtL1</text></g>
<g id="n7"><rect class="b" x="843" y="831" width="29" height="8"/><text class="t" x="857.5" y="836">Meal3 start</text></g>
<g id="n8"><rect class="b" x="842" y="842" width="33" height="7"/><text class="t" x="858.5" y="846.5">Meal3 duration</text></g>
<g id="n9"><rect class="a" x="910" y="824" width="29" height="8" rx="2"/><text class="t" x="924.5" y="829">Carbs meal3</text></g>
<g id="n10"><rect class="a" x="955" y="824" width="29" height="8" rx="2"/><text class="t" x="969.5" y="829">Protein meal3</text></g>
<g id="n11"><rect class="a" x="997" y="824" width="29" height="8" rx="2"/><text class="t" x="1011.5" y="829">Fat meal3</text></g>
<g id="n12"><rect class="d" x="894" y="851" width="39" height="13"/><rect class="a" x="896.5" y="853.5" width="34" height="8" rx="2"/><text class="t" x="913.5" y="858.5">Carbs Stomach</text></g>
<g id="n13"><rect class="d" x="938" y="850" width="41" height="13"/><rect class="a" x="940.5" y="852.5" width="36" height="8" rx="2"/><text class="t" x="958.5" y="857.5">Protein Stomach</text></g>
<g id="n14"><rect class="d" x="983" y="850" width="35" height="13"/><rect class="a" x="985.5" y="852.5" width="30" height="8" rx="2"/><text class="t" x="1000.5" y="857.5">Fat Stomach</text></g>

<g id="r1"><rect class="b" x="1158" y="662" width="28" height="9"/><text class="t" x="1172" y="667.5">PYY</text></g>
<g id="r2"><rect class="d" x="1137" y="683" width="30" height="13"/><rect class="a" x="1139.5" y="685.5" width="25" height="8" rx="2"/><text class="t" x="1152" y="690.5">Carbs G</text></g>
<g id="r3"><rect class="d" x="1189" y="686" width="47" height="8"/><rect class="p" x="1191.5" y="688.5" width="42" height="3"/><text class="tp" x="1212.5" y="691">GRPPS1_Plasma_conc</text></g>
<g id="r4"><rect class="b" x="1094" y="702" width="28" height="9"/><text class="t" x="1108" y="707.5">L cells</text></g>
<g id="r5"><rect class="a" x="1163" y="703" width="27" height="9" rx="2"/><text class="t" x="1176.5" y="708.5">GLP1</text></g>
<g id="r6"><rect class="a" x="1234" y="703" width="28" height="9" rx="2"/><text class="t" x="1248" y="708.5">GLP1periph</text></g>
<g id="r7"><rect class="b" x="1283" y="703" width="34" height="9"/><text class="t" x="1300" y="708.5">GLP1 degrade</text></g>
<g id="r8"><rect class="d" x="1091" y="713" width="30" height="13"/><rect class="a" x="1093.5" y="715.5" width="25" height="8" rx="2"/><text class="t" x="1106" y="720.5">Fat G1</text></g>
<g id="r9"><rect class="a" x="1163" y="719" width="26" height="9" rx="2"/><text class="t" x="1176" y="724.5">OXYT</text></g>
<g id="r10"><rect class="a" x="1233" y="720" width="28" height="9" rx="2"/><text class="t" x="1247" y="725.5">OXYperiph</text></g>
<g id="r11"><rect class="b" x="1284" y="720" width="33" height="9"/><text class="t" x="1300.5" y="725.5">OXYT degrade</text></g>
<g id="r12"><rect class="b" x="1095" y="735" width="28" height="9"/><text class="t" x="1109" y="740.5">K cells</text></g>
<g id="r13"><rect class="a" x="1162" y="735" width="27" height="9" rx="2"/><text class="t" x="1175.5" y="740.5">GIP</text></g>
<g id="r14"><rect class="a" x="1234" y="736" width="28" height="9" rx="2"/><text class="t" x="1248" y="741.5">GIPperiph</text></g>
<g id="r15"><rect class="b" x="1284" y="736" width="33" height="9"/><text class="t" x="1300.5" y="741.5">GIP degrade</text></g>
<g id="r16"><rect class="d" x="1062" y="782" width="20" height="7"/><rect class="e" x="1064.5" y="784" width="15" height="3"/><text class="t" x="1072" y="786.5">Session1</text></g>
<g id="r17"><rect class="d" x="1095" y="791" width="31" height="12"/><rect class="a" x="1097.5" y="793.5" width="26" height="7" rx="2"/><text class="t" x="1110.5" y="798">GLP1</text></g>
<g id="r18"><rect class="d" x="1097" y="806" width="30" height="12"/><rect class="a" x="1099.5" y="808.5" width="25" height="7" rx="2"/><text class="t" x="1112" y="813">OXYT</text></g>
<g id="r19"><rect class="a" x="1050" y="824" width="37" height="9" rx="2"/><text class="t" x="1068.5" y="829.5">Vagal effects</text></g>
<g id="r20"><rect class="d" x="1159" y="791" width="33" height="14"/><rect class="c" x="1161.5" y="793.5" width="28" height="9" rx="2"/><text class="t" x="1175.5" y="799">Caci C1</text></g>
<g id="r21"><rect class="d" x="1159" y="807" width="31" height="13"/><rect class="a" x="1161.5" y="809.5" width="26" height="8" rx="2"/><text class="t" x="1174.5" y="814.5">GIP</text></g>
<g id="r22"><rect class="d" x="1218" y="787" width="22" height="9"/><rect class="e" x="1220.5" y="789.5" width="17" height="4"/><text class="t" x="1229" y="792.5">Session1</text></g>
<g id="r23"><rect class="d" x="1251" y="791" width="30" height="12"/><rect class="a" x="1253.5" y="793.5" width="25" height="7" rx="2"/><text class="t" x="1266" y="798">GLP1</text></g>
<g id="r24"><rect class="d" x="1252" y="806" width="29" height="11"/><rect class="a" x="1254.5" y="808.5" width="24" height="6" rx="2"/><text class="t" x="1266.5" y="812.5">OXYT</text></g>
<g id="r25"><rect class="a" x="1207" y="829" width="42" height="9" rx="2"/><text class="t" x="1228" y="834.5">Insulin Multiplier</text></g>
</svg>
